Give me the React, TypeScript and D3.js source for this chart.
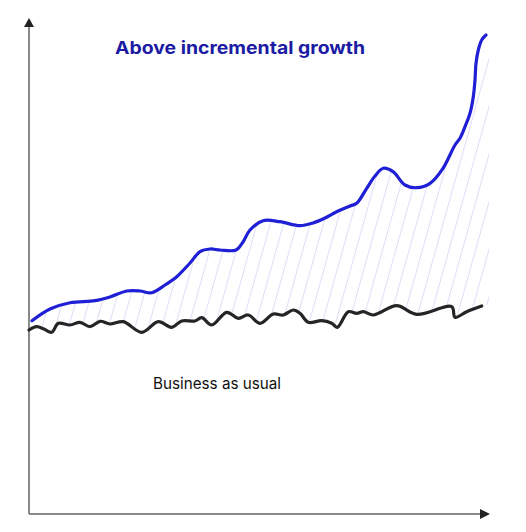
import React, { useMemo } from 'react';
import { scaleLinear, line, area, curveCatmullRom } from 'd3';

// readings: x = distance along the time axis, y = height above the baseline
const growthX = [3, 21, 41, 66, 81, 97.7, 111, 122.7, 136, 147.7, 161, 171, 181, 191, 207, 214, 221, 234, 251, 271, 284, 296, 307.7, 321, 327.7, 337.7, 346, 354.3, 364, 376, 387.7, 401, 414, 426, 431, 436, 441, 444.3, 446, 447, 449.3, 452.7, 457];
const growthY = [193.3, 205, 211.3, 213.3, 217, 223, 223, 221.3, 229, 237.3, 251, 262.3, 265, 264, 264, 272, 284, 293.3, 292.3, 288.3, 291, 296, 302.3, 308, 310.7, 325.7, 338, 345.7, 342.3, 329, 326.3, 330.7, 345.7, 369, 375.7, 387.3, 400.7, 417.3, 434, 450.7, 464, 474, 479];

const usualX = [0, 7.7, 15, 22.7, 29.3, 41, 51, 61, 71, 81, 94.3, 112.7, 129.3, 142.7, 152.7, 166, 172.7, 182.7, 197.7, 209.3, 219.3, 231, 244.3, 254.3, 264.3, 271, 279.3, 292.7, 302.7, 308.3, 319.3, 327.7, 334.3, 344.3, 367.7, 387.7, 422.7, 426, 437.7, 452.7];
const usualY = [184, 187.3, 185, 181.7, 190.7, 189, 191.7, 187.3, 192.7, 190, 192.3, 181.7, 192.3, 186.7, 193, 193, 196.3, 189, 201.7, 195.7, 199, 190.7, 200, 199, 204, 200.7, 191.7, 193.3, 190.7, 186.7, 202.3, 200.7, 202.3, 199, 208.3, 199.7, 207.3, 196.7, 202.3, 208];

const titleText = 'Above incremental growth';
const baselineText = 'Business as usual';

type Pt = [number, number];

const App: React.FC = () => {
    const width = 526;
    const height = 532;
    const origin = { x: 29, y: 514 };

    const { growthPath, usualPath, underGrowth, aboveUsual } = useMemo(() => {
        const xScale = scaleLinear().domain([0, 460]).range([origin.x, origin.x + 460]);
        const yScale = scaleLinear().domain([0, 494]).range([origin.y, origin.y - 494]);

        const growth: Pt[] = growthX.map((x, i) => [x, growthY[i]]);
        const usual: Pt[] = usualX.map((x, i) => [x, usualY[i]]);
        const curve = curveCatmullRom.alpha(0.5);

        const lineGen = line<Pt>()
            .x(d => xScale(d[0]))
            .y(d => yScale(d[1]))
            .curve(curve);

        // clip shapes for the hatched gap between the two lines
        const under = area<Pt>()
            .x(d => xScale(d[0]))
            .y0(yScale(0))
            .y1(d => yScale(d[1]))
            .curve(curve);
        // the black line's end is stretched right so the hatch reaches the blue end
        const usualExt: Pt[] = [...usual, [460, usualY[usualY.length - 1] + 1]];
        const above = area<Pt>()
            .x(d => xScale(d[0]))
            .y0(yScale(494))
            .y1(d => yScale(d[1]))
            .curve(curve);

        return {
            growthPath: lineGen(growth) || '',
            usualPath: lineGen(usual) || '',
            underGrowth: under([...growth, [460, growthY[growthY.length - 1] + 4]]) || '',
            aboveUsual: above(usualExt) || ''
        };
    }, []);

    return (
        <svg width={width} height={height} style={{ position: 'absolute', left: 0, top: 0, background: '#fff' }}>
            <defs>
                <pattern id="hatch" width={12.8} height={20} patternUnits="userSpaceOnUse" patternTransform="rotate(15.6)">
                    <line x1={0} y1={0} x2={0} y2={20} stroke="#c2c2f5" strokeWidth={1.1} />
                </pattern>
                <clipPath id="underGrowth">
                    <path d={underGrowth} />
                </clipPath>
                <clipPath id="aboveUsual">
                    <path d={aboveUsual} />
                </clipPath>
            </defs>

            {/* hatched gap */}
            <g clipPath="url(#underGrowth)">
                <rect x={0} y={0} width={width} height={height} fill="url(#hatch)" clipPath="url(#aboveUsual)" />
            </g>

            {/* axes */}
            <line x1={origin.x} y1={origin.y} x2={origin.x} y2={26} stroke="#8a8a8a" strokeWidth={2} />
            <line x1={origin.x} y1={origin.y} x2={481} y2={origin.y} stroke="#8a8a8a" strokeWidth={2} />
            <path d={`M${origin.x - 5},27 L${origin.x},18 L${origin.x + 5},27 Z`} fill="#222" />
            <path d={`M480,${origin.y - 5} L490,${origin.y} L480,${origin.y + 5} Z`} fill="#222" />

            {/* series */}
            <path d={usualPath} fill="none" stroke="#252525" strokeWidth={3.2} strokeLinecap="round" strokeLinejoin="round" />
            <path d={growthPath} fill="none" stroke="#1f1fd6" strokeWidth={3.2} strokeLinecap="round" strokeLinejoin="round" />

            {/* labels */}
            <text x={115} y={54} fontFamily="Inter, 'Open Sans', sans-serif" fontWeight={700} fontSize={17.5} fill="#1b1ba3" textLength={250} lengthAdjust="spacingAndGlyphs">
                {titleText}
            </text>
            <text x={153} y={389} fontFamily="Inter, 'Liberation Sans', sans-serif" fontSize={15.5} fill="#111" textLength={128} lengthAdjust="spacingAndGlyphs">
                {baselineText}
            </text>
        </svg>
    );
};

export default App;
